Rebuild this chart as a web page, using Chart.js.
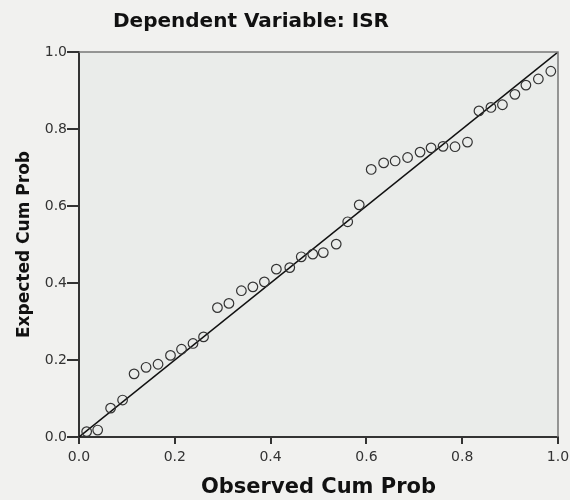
<!DOCTYPE html>
<html>
<head>
<meta charset="utf-8">
<script src="https://cdn.jsdelivr.net/npm/chart.js"></script>
<style>
    body { margin: 0; background: #f1f1ef; }
    .chart-wrap { position: relative; width: 570px; height: 500px; }
    .chart-title {
        position: absolute; left: 0; top: 8px; width: 502px;
        text-align: center; font: bold 20px "DejaVu Sans", sans-serif;
        line-height: 24px; color: #111;
    }
</style>
</head>
<body>
<div class="chart-wrap">
    <canvas id="ppPlot" width="570" height="500"></canvas>
    <div class="chart-title">Dependent Variable: ISR</div>
</div>
<script>
    // Normal P-P plot of regression standardized residual
    const observedCumProb = [0.016, 0.039, 0.066, 0.091, 0.115, 0.140, 0.165, 0.191, 0.214, 0.238,
        0.260, 0.289, 0.313, 0.339, 0.363, 0.387, 0.412, 0.440, 0.464, 0.488,
        0.510, 0.537, 0.561, 0.585, 0.610, 0.636, 0.660, 0.686, 0.712, 0.735,
        0.760, 0.785, 0.811, 0.835, 0.860, 0.884, 0.910, 0.933, 0.959, 0.985];
    const expectedCumProb = [0.014, 0.018, 0.075, 0.096, 0.164, 0.181, 0.189, 0.212, 0.228, 0.243,
        0.260, 0.336, 0.347, 0.380, 0.390, 0.403, 0.436, 0.440, 0.468, 0.475,
        0.479, 0.501, 0.559, 0.603, 0.695, 0.712, 0.717, 0.726, 0.740, 0.751,
        0.755, 0.754, 0.766, 0.847, 0.856, 0.863, 0.890, 0.914, 0.930, 0.950];
    const refLineX = [0, 1];
    const refLineY = [0, 1];
    const axisTicks = [0.0, 0.2, 0.4, 0.6, 0.8, 1.0];

    const points = observedCumProb.map((x, i) => ({ x: x, y: expectedCumProb[i] }));
    const refLine = refLineX.map((x, i) => ({ x: x, y: refLineY[i] }));

    // background + frame around the plot area
    const frame = {
        id: 'frame',
        beforeDraw(chart) {
            const { ctx, chartArea: a } = chart;
            ctx.save();
            ctx.fillStyle = '#f1f1ef';
            ctx.fillRect(0, 0, chart.width, chart.height);
            ctx.fillStyle = '#eaecea';
            ctx.fillRect(a.left, a.top, a.right - a.left, a.bottom - a.top);
            ctx.restore();
        },
        afterDatasetsDraw(chart) {
            const { ctx, chartArea: a } = chart;
            ctx.save();
            ctx.strokeStyle = '#777';
            ctx.lineWidth = 1.5;
            ctx.beginPath();
            ctx.moveTo(a.left, a.top);
            ctx.lineTo(a.right, a.top);
            ctx.lineTo(a.right, a.bottom);
            ctx.stroke();
            ctx.restore();
        }
    };

    const tickFont = { family: 'DejaVu Sans', size: 14 };

    new Chart(document.getElementById('ppPlot'), {
        type: 'scatter',
        data: {
            datasets: [{
                label: 'Expected Cum Prob',
                data: points,
                pointStyle: 'circle',
                pointRadius: 4.8,
                pointHoverRadius: 4.8,
                borderColor: '#333',
                borderWidth: 1.2,
                backgroundColor: 'rgba(0,0,0,0)'
            }, {
                type: 'line',
                label: 'Reference',
                data: refLine,
                borderColor: '#111',
                borderWidth: 1.5,
                pointRadius: 0,
                fill: false
            }]
        },
        options: {
            responsive: false,
            animation: false,
            layout: { padding: { top: 52, right: 0, left: 0, bottom: 0 } },
            plugins: {
                legend: { display: false },
                tooltip: { enabled: false }
            },
            scales: {
                x: {
                    type: 'linear',
                    min: 0,
                    max: 1,
                    afterBuildTicks: s => { s.ticks = axisTicks.map(v => ({ value: v })); },
                    afterFit: s => { s.height = 63; s.paddingRight = 12; s.paddingLeft = 0; },
                    ticks: {
                        callback: v => v.toFixed(1),
                        font: tickFont,
                        color: '#333',
                        padding: 5,
                        maxRotation: 0
                    },
                    grid: { drawOnChartArea: false, drawTicks: true, tickLength: 7, color: '#333', lineWidth: 2 },
                    border: { display: true, color: '#333', width: 2 },
                    title: {
                        display: true,
                        text: 'Observed Cum Prob',
                        font: { family: 'DejaVu Sans', size: 21, weight: 'bold' },
                        color: '#111',
                        padding: { top: 0, bottom: 0 }
                    }
                },
                y: {
                    type: 'linear',
                    min: 0,
                    max: 1,
                    afterBuildTicks: s => { s.ticks = axisTicks.map(v => ({ value: v })); },
                    afterFit: s => { s.width = 79; },
                    ticks: {
                        callback: v => v.toFixed(1),
                        font: tickFont,
                        color: '#333',
                        padding: 0
                    },
                    grid: { drawOnChartArea: false, drawTicks: true, tickLength: 12, color: '#333', lineWidth: 2 },
                    border: { display: true, color: '#333', width: 2 },
                    title: {
                        display: true,
                        text: 'Expected Cum Prob',
                        font: { family: 'DejaVu Sans', size: 17, weight: 'bold' },
                        color: '#111',
                        padding: { top: 14, bottom: 0 }
                    }
                }
            }
        },
        plugins: [frame]
    });
</script>
</body>
</html>
